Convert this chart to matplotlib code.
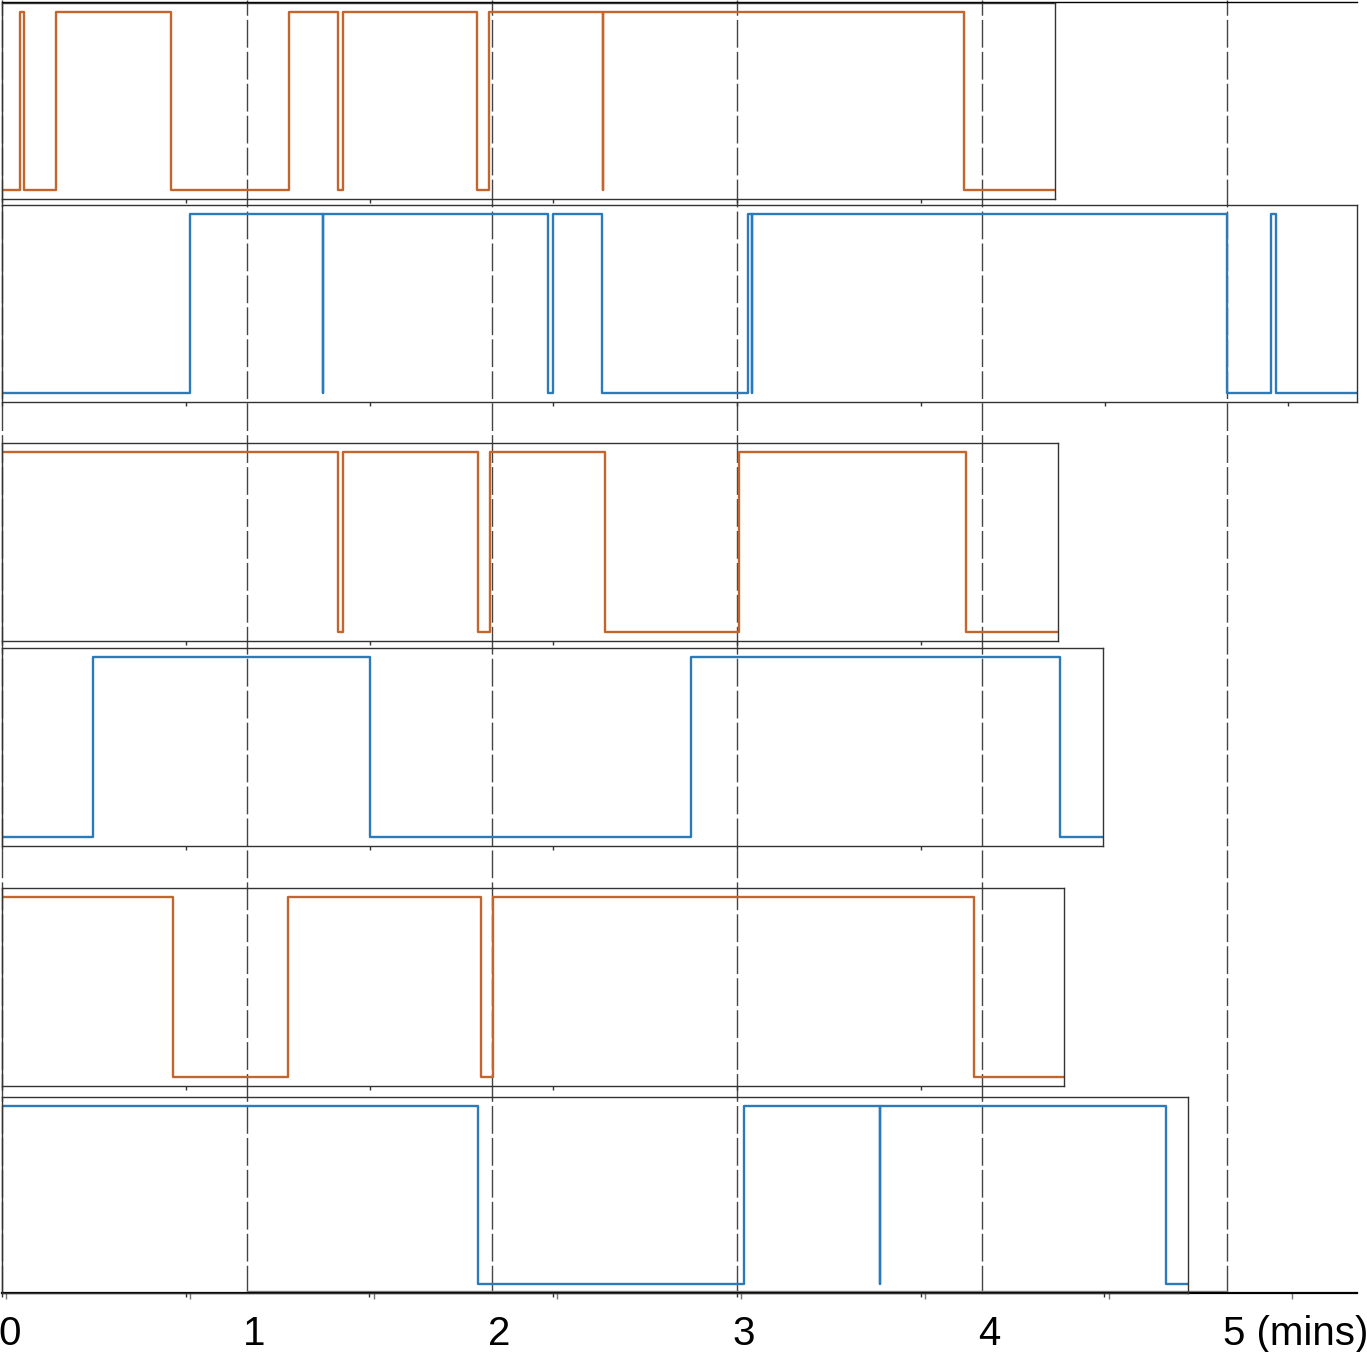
import numpy as np
import matplotlib.pyplot as plt

plt.rcParams['font.family'] = ['Liberation Sans', 'DejaVu Sans']

# time in seconds; a dashed guide every minute, small ticks every 45 s
minute_labels = ['0', '1', '2', '3', '4', '5 (mins)']
tick_step = 45

# each trace: level at t=0, switch times (s), end time (s)
# a switch time given twice is a momentary dip
starts = [0, 0, 1, 0, 1, 1]
switches = [
    [4.4, 5.5, 13.2, 41.4, 70.3, 82.3, 83.5, 116.3, 119.3, 147.2, 147.2, 235.5],
    [46.0, 78.6, 78.6, 133.7, 134.9, 146.9, 182.6, 183.7, 183.7, 299.9, 310.8, 312.1],
    [82.3, 83.5, 116.5, 119.5, 147.6, 180.5, 236.1],
    [22.3, 90.1, 168.7, 259.1],
    [41.9, 70.0, 117.2, 120.2, 238.0],
    [116.6, 181.7, 215.0, 215.0, 285.1],
]
ends = [257.9, 331.8, 258.6, 269.6, 260.1, 290.4]
colors = ['#c5652e', '#2b7bba'] * 3

W, H = 1367, 1352
px_per_s = 245 / 60.0
x0 = 2
panel_rows = [(3, 199), (205, 402), (443, 641), (648, 846), (888, 1086), (1097, 1293)]

fig = plt.figure(figsize=(W / 100, H / 100), dpi=100)

# background axis carrying the time scale and the minute guides
bg_top, bg_bot, bg_right = 2, 1293, 1357
bg = fig.add_axes([x0 / W, 1 - bg_bot / H, (bg_right - x0) / W, (bg_bot - bg_top) / H])
bg.set_xlim(0, (bg_right - x0) / px_per_s)
bg.set_ylim(0, 1)
bg.set_yticks([])
for side in ['left', 'right']:
    bg.spines[side].set_visible(False)
bg.spines['top'].set_linewidth(1.0)
bg.spines['bottom'].set_linewidth(1.6)
bg.set_xticks(np.arange(0, 330, tick_step) + 1)
bg.tick_params(axis='x', length=4, width=1, color='#777777', labelbottom=False)
for i, lab in enumerate(minute_labels):
    bg.text(i * 60 - 1.0, -52 / (bg_bot - bg_top), lab, transform=bg.get_xaxis_transform(),
            ha='left', va='baseline', fontsize=29, color='black')
for i in range(len(minute_labels)):
    bg.axvline(i * 60, ymin=0, ymax=1 + bg_top / (bg_bot - bg_top), color='#444444',
               lw=1.0, dashes=(20, 3), clip_on=False)
bg.plot([60, 300], [2 / (bg_bot - bg_top)] * 2, color='#888888', lw=1.0,
        transform=bg.get_xaxis_transform())

for k, (top, bot) in enumerate(panel_rows):
    end = ends[k]
    ax = fig.add_axes([x0 / W, 1 - bot / H, end * px_per_s / W, (bot - top) / H])
    ax.set_facecolor('none')
    ts = [0] + switches[k] + [end]
    levels = [(starts[k] + i) % 2 for i in range(len(ts) - 1)]
    levels.append(levels[-1])
    ax.plot(ts, levels, drawstyle='steps-post', color=colors[k], lw=1.7)
    ax.set_xlim(0, end)
    ax.set_ylim(-0.05, 1.05)
    ax.set_yticks([])
    ax.set_xticks(np.arange(0, end, tick_step))
    ax.tick_params(axis='x', length=3, width=1, color='#333333', labelbottom=False)
    for s in ax.spines.values():
        s.set_color('#333333')
        s.set_linewidth(1.0)

fig.savefig('out.png', dpi=100)
